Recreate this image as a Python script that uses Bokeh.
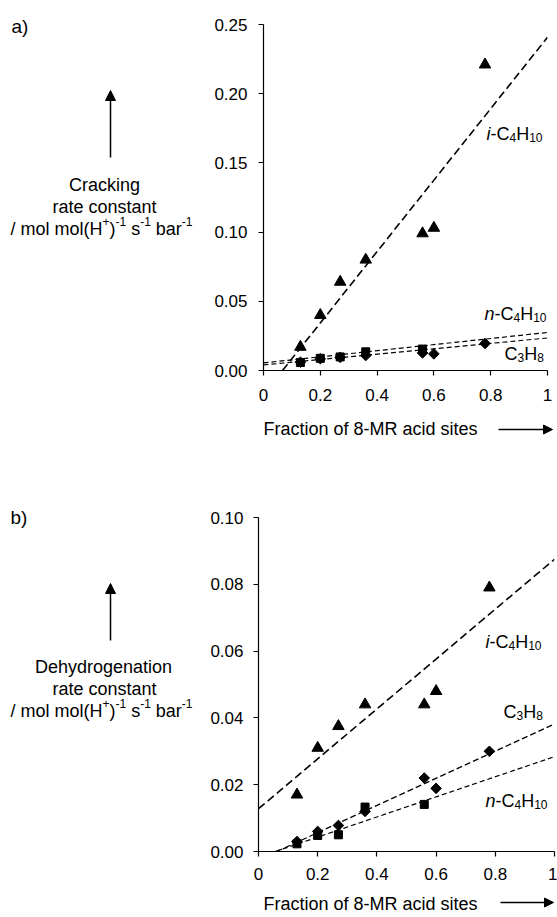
from bokeh.plotting import figure
from bokeh.layouts import column, row
from bokeh.models import Range1d, FixedTicker, Label, Arrow, NormalHead
from bokeh.embed import file_html
from bokeh.resources import INLINE
import math

# ---------------- data ----------------
frac = [0.13, 0.20, 0.27, 0.36, 0.56, 0.60, 0.78]
frac_n = [0.13, 0.20, 0.27, 0.36, 0.56]

crack_iC4 = [0.017, 0.040, 0.064, 0.080, 0.099, 0.103, 0.221]
crack_C3 = [0.0060, 0.0085, 0.0095, 0.0108, 0.0127, 0.0120, 0.0195]
crack_nC4 = [0.0058, 0.0088, 0.0098, 0.0135, 0.0155]

dehyd_iC4 = [0.017, 0.031, 0.0375, 0.044, 0.044, 0.048, 0.079]
dehyd_C3 = [0.0030, 0.0060, 0.0078, 0.0120, 0.0220, 0.0189, 0.0300]
dehyd_nC4 = [0.0023, 0.0048, 0.0050, 0.0133, 0.0141]

# linear trend lines (slope, intercept)
crack_fit_iC4 = (0.2581, -0.0173)
crack_fit_nC4 = (0.0220, 0.0055)
crack_fit_C3 = (0.0195, 0.0040)
dehyd_fit_iC4 = (0.0747, 0.0128)
dehyd_fit_C3 = (0.0407, -0.0025)
dehyd_fit_nC4 = (0.0301, -0.0017)

x_ticks = [0, 0.2, 0.4, 0.6, 0.8, 1]
x_tick_labels = ["0", "0.2", "0.4", "0.6", "0.8", "1"]
crack_y_ticks = [0, 0.05, 0.10, 0.15, 0.20, 0.25]
crack_y_labels = ["0.00", "0.05", "0.10", "0.15", "0.20", "0.25"]
dehyd_y_ticks = [0, 0.02, 0.04, 0.06, 0.08, 0.10]
dehyd_y_labels = ["0.00", "0.02", "0.04", "0.06", "0.08", "0.10"]

FONT = "Liberation Sans"
TEXT_DY = -5  # empirical baseline correction for Label text
W = {' ': 278, '(': 333, ')': 333, '+': 584, '-': 333, '/': 278, 'C': 722, 'H': 722,
     'D': 722, 'F': 611, 'M': 833, 'R': 722, 'a': 556, 'b': 556, 'c': 500, 'd': 556,
     'e': 556, 'f': 278, 'g': 556, 'h': 556, 'i': 222, 'k': 500, 'l': 222, 'm': 833,
     'n': 556, 'o': 556, 'r': 333, 's': 500, 't': 278, 'y': 500}


def text_width(t, size):
    return sum(W.get(c, 556) for c in t) * size / 1000.0


class Base:
    def runs(self, x_px, y_px, runs, size=18, small=12, align="left"):
        widths = []
        for t, st in runs:
            s = size if st in ("n", "i") else small
            widths.append(text_width(t, s))
        total = sum(widths)
        x = x_px - total / 2.0 if align == "center" else x_px
        for (t, st), w in zip(runs, widths):
            s = size if st in ("n", "i") else small
            dy = 4 if st == "sub" else (-7 if st == "sup" else 0)
            lead = len(t) - len(t.lstrip(" "))
            xs = x + text_width(" " * lead, s)
            self.p.add_layout(Label(x=self.cx(xs), y=self.cy(y_px + dy + TEXT_DY), text=t.strip(" "),
                                    text_font=FONT, text_font_size=f"{s}px",
                                    text_font_style="italic" if st == "i" else "normal",
                                    text_color="black", text_align="left",
                                    text_baseline="alphabetic"))
            x += w

    def arrow(self, x0, y0, x1, y1, size=10, lw=1.5):
        self.p.add_layout(Arrow(end=NormalHead(size=size, fill_color="black", line_color="black",
                                               line_width=1),
                                x_start=self.cx(x0), y_start=self.cy(y0),
                                x_end=self.cx(x1), y_end=self.cy(y1),
                                line_color="black", line_width=lw))


class Strip(Base):
    """Plain drawing area (no axes) whose coordinates are page pixels."""
    def __init__(self, ox, oy, w, h):
        self.ox, self.oy = ox, oy
        self.p = figure(width=w, height=h, min_border=0,
                        min_border_left=0, min_border_right=0,
                        min_border_top=0, min_border_bottom=0,
                        x_range=Range1d(0, w), y_range=Range1d(h, 0),
                        x_axis_type=None, y_axis_type=None,
                        output_backend="svg", toolbar_location=None,
                        background_fill_color="white", border_fill_color="white")
        self.p.outline_line_color = None
        self.p.grid.visible = False

    def cx(self, px):
        return px - self.ox

    def cy(self, py):
        return py - self.oy


class Panel(Base):
    def __init__(self, ox, oy, fl, fr, ft, fb, fig_w, fig_h, ymax):
        self.fl, self.fr, self.ft, self.fb, self.ymax = fl, fr, ft, fb, ymax
        lb = fl - ox
        fw = fr - fl
        tb = ft - oy
        fh = fb - ft
        self.p = figure(frame_width=fw, frame_height=fh,
                        min_border_left=lb, min_border_right=fig_w - lb - fw,
                        min_border_top=tb, min_border_bottom=fig_h - tb - fh,
                        x_range=Range1d(0, 1), y_range=Range1d(0, ymax),
                        output_backend="svg", toolbar_location=None,
                        background_fill_color="white", border_fill_color="white")
        p = self.p
        p.outline_line_color = None
        p.xgrid.visible = False
        p.ygrid.visible = False

    def cx(self, px):
        return (px - self.fl) / (self.fr - self.fl)

    def cy(self, py):
        return (self.fb - py) / (self.fb - self.ft) * self.ymax


def style_axes(p, yt, yl, xstand, ystand):
    p.xaxis.ticker = FixedTicker(ticks=x_ticks)
    p.xaxis.major_label_overrides = dict(zip(x_ticks, x_tick_labels))
    p.yaxis.ticker = FixedTicker(ticks=yt)
    p.yaxis.major_label_overrides = dict(zip(yt, yl))
    for ax in (p.xaxis[0], p.yaxis[0]):
        ax.axis_line_color = "black"
        ax.axis_line_width = 1.2
        ax.major_tick_line_color = "black"
        ax.major_tick_line_width = 1.2
        ax.major_tick_out = 5
        ax.major_tick_in = 0
        ax.minor_tick_out = 0
        ax.minor_tick_in = 0
        ax.major_label_text_font = FONT
        ax.major_label_text_font_size = "17px"
        ax.major_label_text_color = "black"
    p.xaxis.major_label_standoff = xstand
    p.yaxis.major_label_standoff = ystand


def fit_line(p, fit, dash, lw):
    m, b = fit
    x0 = max(0.0, -b / m)
    p.line([x0, 1.0], [m * x0 + b, m * 1.0 + b], line_color="black",
           line_dash=dash, line_width=lw)


def markers(p, y_tri, y_sq, y_dia):
    p.scatter(frac, y_tri, marker="triangle", size=11.5, color="black")
    p.scatter(frac_n, y_sq, marker="square", size=8, color="black")
    p.scatter(frac, y_dia, marker="square", angle=math.pi / 4, size=7.5, color="black")


UNIT = [("/ mol mol(H", "n"), ("+", "sup"), (")", "n"), ("-1", "sup"),
        (" s", "n"), ("-1", "sup"), (" bar", "n"), ("-1", "sup")]
I_C4 = [("i", "i"), ("-C", "n"), ("4", "sub"), ("H", "n"), ("10", "sub")]
N_C4 = [("n", "i"), ("-C", "n"), ("4", "sub"), ("H", "n"), ("10", "sub")]
C3 = [("C", "n"), ("3", "sub"), ("H", "n"), ("8", "sub")]
XLABEL = [("Fraction of 8-MR acid sites", "n")]

LEFT_W = 205
PAGE_W = 557

# ---------------- panel a) ----------------
LA = Strip(0, 0, LEFT_W, 410)
LA.runs(11, 31, [("a)", "n")], size=19)
LA.arrow(110, 157, 110, 90)
LA.runs(104, 189, [("Cracking", "n")], align="center")
LA.runs(104, 211, [("rate constant", "n")], align="center")
LA.runs(101, 233, UNIT, align="center")

A = Panel(LEFT_W, 0, 263, 547, 24, 370, PAGE_W - LEFT_W, 410, 0.25)
pa = A.p
style_axes(pa, crack_y_ticks, crack_y_labels, 13, 11)
fit_line(pa, crack_fit_iC4, "8 4", 1.6)
fit_line(pa, crack_fit_nC4, "5 3", 1.2)
fit_line(pa, crack_fit_C3, "5 3", 1.2)
markers(pa, crack_iC4, crack_nC4, crack_C3)
A.runs(486, 138, I_C4)
A.runs(484, 318, N_C4)
A.runs(504, 358, C3)

XA = Strip(0, 410, PAGE_W, 32)
XA.runs(263, 433, XLABEL)
XA.arrow(498, 429, 552, 429, size=9, lw=1.5)

# ---------------- panel b) ----------------
LB = Strip(0, 442, LEFT_W, 445)
LB.runs(10, 522, [("b)", "n")], size=19)
LB.arrow(110, 640, 110, 583)
LB.runs(103, 671, [("Dehydrogenation", "n")], align="center")
LB.runs(104, 693, [("rate constant", "n")], align="center")
LB.runs(101, 715, UNIT, align="center")

B = Panel(LEFT_W, 442, 258, 554, 517, 851, PAGE_W - LEFT_W, 445, 0.10)
pb = B.p
style_axes(pb, dehyd_y_ticks, dehyd_y_labels, 11, 10)
fit_line(pb, dehyd_fit_iC4, "8 4", 1.6)
fit_line(pb, dehyd_fit_C3, "6 3", 1.3)
fit_line(pb, dehyd_fit_nC4, "5 3", 1.2)
markers(pb, dehyd_iC4, dehyd_nC4, dehyd_C3)
B.runs(485, 646, I_C4)
B.runs(503, 716, C3)
B.runs(485, 805, N_C4)

XB = Strip(0, 887, PAGE_W, 30)
XB.runs(263, 908, XLABEL)
XB.arrow(500, 902, 553, 902, size=9, lw=1.5)

layout = column(row(column(LA.p), pa), XA.p, row(column(LB.p), pb), XB.p)
open("out.html", "w").write(file_html(layout, INLINE))
